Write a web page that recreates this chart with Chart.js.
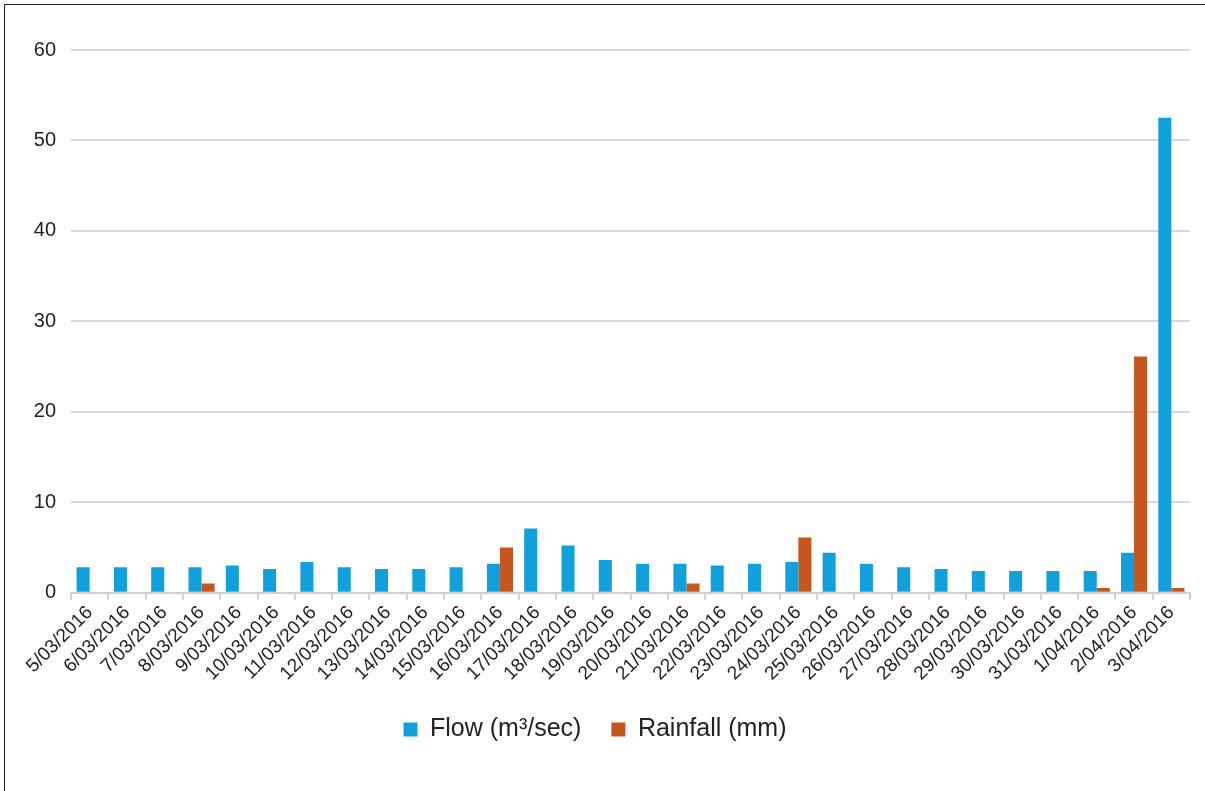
<!DOCTYPE html>
<html>
<head>
<meta charset="utf-8">
<script src="https://cdn.jsdelivr.net/npm/chart.js@4/dist/chart.umd.min.js"></script>
<style>
  body { margin: 0; background: #fff; }
  #wrap { position: relative; width: 1205px; height: 791px; }
  #frame {
    position: absolute; left: 4px; top: 4px; right: 0; bottom: 0;
    border-left: 1.5px solid #222; border-top: 1.5px solid #222;
    pointer-events: none;
  }
</style>
</head>
<body>
<div id="wrap">
  <canvas id="chart" width="1205" height="791"></canvas>
  <div id="frame"></div>
</div>
<script>
const dates = [
  "5/03/2016", "6/03/2016", "7/03/2016", "8/03/2016", "9/03/2016",
  "10/03/2016", "11/03/2016", "12/03/2016", "13/03/2016", "14/03/2016",
  "15/03/2016", "16/03/2016", "17/03/2016", "18/03/2016", "19/03/2016",
  "20/03/2016", "21/03/2016", "22/03/2016", "23/03/2016", "24/03/2016",
  "25/03/2016", "26/03/2016", "27/03/2016", "28/03/2016", "29/03/2016",
  "30/03/2016", "31/03/2016", "1/04/2016", "2/04/2016", "3/04/2016"
];
const flow = [
  2.8, 2.8, 2.8, 2.8, 3.0, 2.6, 3.4, 2.8, 2.6, 2.6,
  2.8, 3.2, 7.1, 5.2, 3.6, 3.2, 3.2, 3.0, 3.2, 3.4,
  4.4, 3.2, 2.8, 2.6, 2.4, 2.4, 2.4, 2.4, 4.4, 52.5
];
const rainfall = [
  0, 0, 0, 1.0, 0, 0, 0, 0, 0, 0,
  0, 5.0, 0, 0, 0, 0, 1.0, 0, 0, 6.1,
  0, 0, 0, 0, 0, 0, 0, 0.5, 26.1, 0.5
];
const yTicks = [0, 10, 20, 30, 40, 50, 60];

const font = "'Liberation Sans', Arial, sans-serif";
const ctx = document.getElementById("chart").getContext("2d");

new Chart(ctx, {
  type: "bar",
  data: {
    labels: dates,
    datasets: [
      {
        label: "Flow (m³/sec)",
        data: flow,
        backgroundColor: "#12A0DC",
        barPercentage: 1,
        categoryPercentage: 0.7,
      },
      {
        label: "Rainfall (mm)",
        data: rainfall,
        backgroundColor: "#C5561E",
        barPercentage: 1,
        categoryPercentage: 0.7,
      },
    ],
  },
  options: {
    responsive: false,
    animation: false,
    layout: { padding: { top: 50, right: 15, bottom: 39, left: 0 } },
    plugins: {
      legend: {
        position: "bottom",
        labels: {
          font: { family: font, size: 25 },
          color: "#222",
          boxWidth: 14,
          boxHeight: 14,
          padding: 30,
        },
      },
      tooltip: { enabled: false },
    },
    scales: {
      x: {
        grid: {
          offset: true,
          drawOnChartArea: false,
          drawTicks: true,
          tickLength: 7,
          color: "#d0d0d0",
          lineWidth: 2,
        },
        border: { color: "#d0d0d0", width: 2 },
        ticks: {
          font: { family: font, size: 19 },
          color: "#222",
          minRotation: 45,
          maxRotation: 45,
          autoSkip: false,
          padding: 2,
        },
      },
      y: {
        min: 0,
        max: 60,
        afterBuildTicks: (scale) => {
          scale.ticks = yTicks.map((v) => ({ value: v }));
        },
        afterFit: (scale) => {
          scale.width = 71;
        },
        grid: { color: "#d9d9d9", lineWidth: 2, drawTicks: false },
        border: { display: false },
        ticks: {
          font: { family: font, size: 20 },
          color: "#222",
          padding: 15,
        },
      },
    },
  },
});
</script>
</body>
</html>
